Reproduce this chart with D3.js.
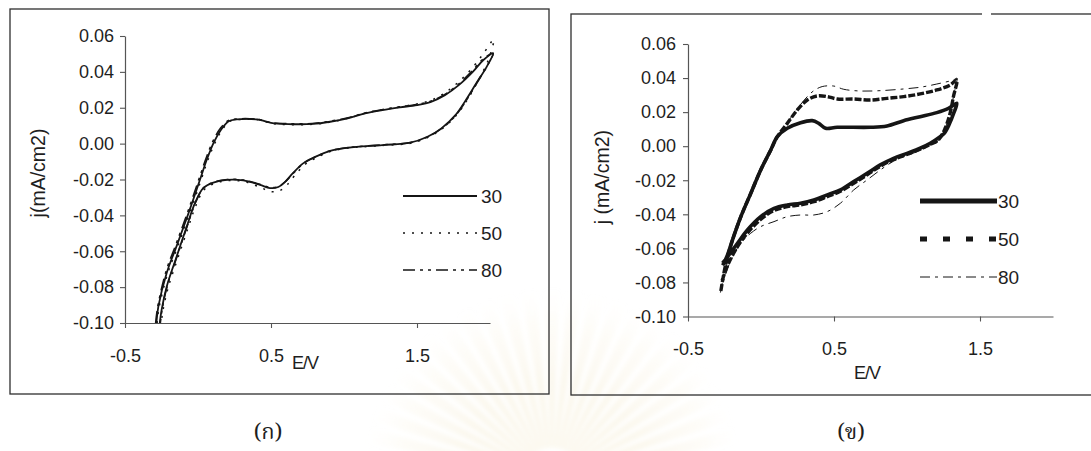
<!DOCTYPE html>
<html>
<head>
<meta charset="utf-8">
<script src="https://cdn.jsdelivr.net/npm/d3@7"></script>
<style>
  html, body { margin: 0; padding: 0; background: #ffffff; }
  svg { display: block; }
  text { font-family: "Liberation Sans", Arial, sans-serif; fill: #1e1e1e; }
</style>
</head>
<body>
<svg id="fig" width="1091" height="451"></svg>
<script>
// ---- data ---------------------------------------------------------------
const seriesNames = ["30", "50", "80"];
const xTickValues = [-0.5, 0.5, 1.5];
const yTickValues = [0.06, 0.04, 0.02, 0.00, -0.02, -0.04, -0.06, -0.08, -0.10];

// panel (ก): cyclic voltammograms, [E (V), j (mA/cm2)], forward then reverse scan
const cvA30 = [
  [-0.285,-0.100],[-0.272,-0.091],[-0.214,-0.072],[-0.146,-0.057],[-0.066,-0.039],[0.014,-0.020],
  [0.060,-0.009],[0.110,0.001],[0.160,0.008],[0.210,0.0125],[0.263,0.0135],[0.406,0.0135],
  [0.500,0.0116],[0.620,0.0109],[0.786,0.0110],[0.905,0.0122],[1.025,0.0141],[1.144,0.0169],
  [1.262,0.0187],[1.382,0.0202],[1.500,0.0215],[1.596,0.0233],[1.691,0.0270],[1.786,0.0326],
  [1.882,0.0400],[1.953,0.0465],[2.020,0.0502],
  [1.977,0.0428],[1.905,0.0335],[1.834,0.0242],[1.763,0.0159],[1.667,0.0085],[1.572,0.0038],
  [1.453,0.0005],[1.262,-0.0008],[1.025,-0.0023],[0.905,-0.0040],[0.800,-0.0075],[0.720,-0.0110],
  [0.650,-0.0165],[0.600,-0.0210],[0.550,-0.0242],[0.493,-0.0248],[0.425,-0.0230],[0.310,-0.0205],
  [0.197,-0.0202],[0.105,-0.0217],[0.036,-0.0248],[-0.021,-0.0332],[-0.077,-0.0462],[-0.146,-0.0629],
  [-0.214,-0.0796],[-0.249,-0.0925],[-0.262,-0.100]
];
const cvA50 = [
  [-0.280,-0.100],[-0.268,-0.092],[-0.210,-0.073],[-0.142,-0.058],[-0.062,-0.040],[0.018,-0.021],
  [0.064,-0.010],[0.114,0.000],[0.164,0.0075],[0.214,0.0122],[0.268,0.0133],[0.410,0.0133],
  [0.505,0.0113],[0.625,0.0106],[0.790,0.0108],[0.910,0.0121],[1.030,0.0142],[1.150,0.0171],
  [1.268,0.0190],[1.388,0.0206],[1.505,0.0222],[1.600,0.0243],[1.695,0.0285],[1.786,0.0345],
  [1.882,0.0425],[1.953,0.0500],[2.025,0.0580],
  [1.990,0.0470],[1.915,0.0345],[1.845,0.0245],[1.772,0.0160],[1.675,0.0085],[1.578,0.0036],
  [1.460,0.0003],[1.265,-0.0010],[1.028,-0.0025],[0.910,-0.0043],[0.808,-0.0080],[0.730,-0.0118],
  [0.662,-0.0178],[0.612,-0.0228],[0.560,-0.0262],[0.500,-0.0268],[0.430,-0.0245],[0.318,-0.0212],
  [0.205,-0.0206],[0.112,-0.0222],[0.044,-0.0255],[-0.012,-0.0340],[-0.068,-0.0470],[-0.138,-0.0638],
  [-0.205,-0.0805],[-0.240,-0.0930],[-0.252,-0.100]
];
const cvA80 = [
  [-0.290,-0.100],[-0.276,-0.091],[-0.218,-0.071],[-0.150,-0.056],[-0.070,-0.038],[0.010,-0.019],
  [0.056,-0.008],[0.106,0.002],[0.156,0.0088],[0.206,0.0128],[0.258,0.0137],[0.400,0.0136],
  [0.495,0.0118],[0.615,0.0111],[0.780,0.0112],[0.900,0.0124],[1.020,0.0143],[1.140,0.0170],
  [1.258,0.0189],[1.378,0.0204],[1.496,0.0218],[1.592,0.0236],[1.688,0.0273],[1.782,0.0330],
  [1.878,0.0405],[1.950,0.0470],[2.022,0.0505],
  [1.982,0.0435],[1.910,0.0338],[1.840,0.0244],[1.768,0.0160],[1.672,0.0086],[1.576,0.0039],
  [1.457,0.0006],[1.266,-0.0007],[1.030,-0.0022],[0.910,-0.0039],[0.805,-0.0074],[0.725,-0.0108],
  [0.656,-0.0162],[0.606,-0.0206],[0.555,-0.0238],[0.498,-0.0245],[0.428,-0.0228],[0.314,-0.0203],
  [0.200,-0.0200],[0.108,-0.0215],[0.040,-0.0245],[-0.017,-0.0328],[-0.073,-0.0458],[-0.142,-0.0625],
  [-0.210,-0.0792],[-0.245,-0.0920],[-0.258,-0.100]
];

// panel (ข)
const cvB30 = [
  [-0.262,-0.070],[-0.230,-0.064],[-0.195,-0.055],[-0.138,-0.0414],[-0.070,-0.0277],[-0.002,-0.0140],
  [0.067,-0.0022],[0.112,0.0056],[0.180,0.0105],[0.271,0.0138],[0.351,0.0150],[0.396,0.0134],
  [0.442,0.0105],[0.522,0.0111],[0.749,0.0111],[0.863,0.0119],[0.977,0.0150],[1.090,0.0173],
  [1.204,0.0197],[1.284,0.0222],[1.341,0.0252],
  [1.318,0.0190],[1.290,0.0130],[1.255,0.0075],[1.227,0.0056],[1.159,0.0017],[1.090,-0.0012],
  [1.000,-0.0042],[0.908,-0.0071],[0.817,-0.0110],[0.727,-0.0159],[0.635,-0.0208],[0.544,-0.0257],
  [0.454,-0.0286],[0.362,-0.0316],[0.271,-0.0335],[0.180,-0.0345],[0.089,-0.0365],[-0.002,-0.0414],
  [-0.093,-0.0492],[-0.161,-0.0570],[-0.229,-0.0649],[-0.263,-0.0687]
];
const cvB50 = [
  [-0.275,-0.085],[-0.241,-0.069],[-0.195,-0.055],[-0.138,-0.0414],[-0.070,-0.0277],[-0.002,-0.0140],
  [0.067,-0.0022],[0.112,0.0056],[0.180,0.0134],[0.249,0.0213],[0.317,0.0271],[0.385,0.0295],
  [0.454,0.0291],[0.522,0.0277],[0.635,0.0277],[0.749,0.0271],[0.863,0.0281],[0.977,0.0291],
  [1.090,0.0307],[1.204,0.0330],[1.295,0.0359],[1.341,0.0389],
  [1.318,0.0291],[1.295,0.0193],[1.261,0.0105],[1.216,0.0038],[1.159,0.0010],[1.090,-0.0018],
  [1.000,-0.0048],[0.908,-0.0078],[0.817,-0.0118],[0.727,-0.0168],[0.635,-0.0218],[0.544,-0.0265],
  [0.454,-0.0296],[0.362,-0.0326],[0.271,-0.0345],[0.180,-0.0355],[0.089,-0.0378],[-0.002,-0.0430],
  [-0.093,-0.0510],[-0.161,-0.0590],[-0.229,-0.0700],[-0.270,-0.0800]
];
const cvB80 = [
  [-0.278,-0.086],[-0.241,-0.070],[-0.195,-0.0555],[-0.138,-0.0420],[-0.070,-0.0280],[-0.002,-0.0145],
  [0.067,-0.0025],[0.112,0.0058],[0.180,0.0138],[0.249,0.0220],[0.317,0.0291],[0.362,0.0326],
  [0.419,0.0350],[0.499,0.0353],[0.567,0.0334],[0.681,0.0324],[0.817,0.0326],[0.977,0.0336],
  [1.090,0.0346],[1.204,0.0365],[1.318,0.0389],[1.341,0.0399],
  [1.320,0.0300],[1.297,0.0200],[1.263,0.0108],[1.218,0.0035],[1.159,0.0005],[1.090,-0.0025],
  [1.000,-0.0055],[0.908,-0.0088],[0.817,-0.0140],[0.727,-0.0198],[0.635,-0.0257],[0.544,-0.0335],
  [0.454,-0.0384],[0.362,-0.0404],[0.271,-0.0404],[0.180,-0.0414],[0.089,-0.0443],[-0.002,-0.0472],
  [-0.070,-0.0511],[-0.138,-0.0570],[-0.206,-0.0668],[-0.275,-0.0844]
];

// ---- drawing ------------------------------------------------------------
const svg = d3.select("#fig");
const fmtLocale = d3.formatLocale({ decimal: ".", thousands: ",", grouping: [3], currency: ["", ""], minus: "-" });
const fmtY = fmtLocale.format(".2f");
const fmtX = fmtLocale.format(".1f");

// faint, soft sunburst emblem in the lower middle of the page
(function drawEmblem() {
  const cx = 552, cy = 478;
  const defs = svg.append("defs");
  // gradient coordinates are local to the translated emblem group
  const grad = defs.append("radialGradient").attr("id", "emblemFade")
    .attr("gradientUnits", "userSpaceOnUse").attr("cx", 0).attr("cy", 0).attr("r", 190);
  grad.append("stop").attr("offset", "0%").attr("stop-color", "#eedfb0").attr("stop-opacity", 0.32);
  grad.append("stop").attr("offset", "50%").attr("stop-color", "#f1e5bf").attr("stop-opacity", 0.26);
  grad.append("stop").attr("offset", "82%").attr("stop-color", "#f4ebcf").attr("stop-opacity", 0.14);
  grad.append("stop").attr("offset", "100%").attr("stop-color", "#f7f1de").attr("stop-opacity", 0);
  defs.append("filter").attr("id", "emblemSoft")
    .attr("x", "-20%").attr("y", "-20%").attr("width", "140%").attr("height", "140%")
    .append("feGaussianBlur").attr("stdDeviation", 2.2);
  const g = svg.append("g").attr("transform", `translate(${cx},${cy})`)
    .attr("filter", "url(#emblemSoft)");
  const arc = d3.arc().innerRadius(30).outerRadius(190);
  const rays = d3.range(-84, 85, 7);
  g.selectAll("path.ray").data(rays).join("path")
    .attr("class", "ray")
    .attr("d", a => arc({ startAngle: (a - 2.3) * Math.PI / 180, endAngle: (a + 2.3) * Math.PI / 180 }))
    .attr("fill", "url(#emblemFade)");
})();

const panels = [
  {
    series: [cvA30, cvA50, cvA80],
    frame: { x: 10, y: 9, w: 539, h: 385 },
    xRange: [125, 490], yRange: [323, 36],
    yTitle: "j(mA/cm2)", yTitlePos: [38, 173],
    xTitlePos: [305, 369],
    styles: [
      { width: 1.8, dash: null },
      { width: 1.5, dash: "2,7" },
      { width: 1.6, dash: "12,5,3,5,3,5" }
    ],
    legend: { x0: 403, x1: 477, ys: [196, 233, 270], tx: 481 },
    yPad: 6, xPad: 21,
    caption: "(ก)", capPos: [268, 439]
  },
  {
    series: [cvB30, cvB50, cvB80],
    frame: { x: 571, y: 14, w: 560, h: 381 },
    xRange: [688, 1053], yRange: [316.5, 44],
    yTitle: "j (mA/cm2)", yTitlePos: [602, 177],
    xTitlePos: [867, 379],
    styles: [
      { width: 3.6, dash: null, legendWidth: 5 },
      { width: 3.4, dash: "7,2", legendWidth: 5, legendDash: "7,16" },
      { width: 1.0, dash: "10,5,3,5" }
    ],
    legend: { x0: 920, x1: 997, ys: [201, 239, 277], tx: 998 },
    yPad: 7, xPad: 21,
    caption: "(ข)", capPos: [851, 439]
  }
];

panels.forEach((p) => {
  const g = svg.append("g");

  // frame
  g.append("rect")
    .attr("x", p.frame.x).attr("y", p.frame.y)
    .attr("width", p.frame.w).attr("height", p.frame.h)
    .attr("fill", "none").attr("stroke", "#2e2e2e").attr("stroke-width", 1.3);

  const x = d3.scaleLinear().domain([-0.5, 2.0]).range(p.xRange);
  const y = d3.scaleLinear().domain([-0.10, 0.06]).range(p.yRange);

  // axes
  const yAxis = d3.axisLeft(y).tickValues(yTickValues).tickFormat(fmtY)
    .tickSize(5).tickSizeOuter(0).tickPadding(p.yPad);
  const xAxis = d3.axisBottom(x).tickValues(xTickValues).tickFormat(fmtX)
    .tickSize(5).tickSizeOuter(0).tickPadding(p.xPad);

  const gy = g.append("g").attr("transform", `translate(${p.xRange[0]},0)`).call(yAxis);
  const gx = g.append("g").attr("transform", `translate(0,${p.yRange[0]})`).call(xAxis);
  [gx, gy].forEach(ax => {
    ax.selectAll("path.domain").attr("stroke", "#555").attr("stroke-width", 1.2);
    ax.selectAll(".tick line").attr("stroke", "#555").attr("stroke-width", 1.1);
    ax.selectAll(".tick text").attr("font-size", 18).attr("fill", "#1e1e1e")
      .attr("font-family", "'Liberation Sans', Arial, sans-serif");
  });

  // axis titles
  g.append("text")
    .attr("transform", `translate(${p.yTitlePos[0]},${p.yTitlePos[1]}) rotate(-90)`)
    .attr("text-anchor", "middle").attr("dy", "0.35em")
    .attr("font-size", 19.5).text(p.yTitle);
  g.append("text")
    .attr("x", p.xTitlePos[0]).attr("y", p.xTitlePos[1])
    .attr("text-anchor", "middle").attr("font-size", 18)
    .attr("letter-spacing", -1).text("E/V");

  // curves
  const line = d3.line().x(d => x(d[0])).y(d => y(d[1])).curve(d3.curveCatmullRom.alpha(0.5));
  p.series.forEach((s, i) => {
    const st = p.styles[i];
    g.append("path").datum(s)
      .attr("d", line)
      .attr("fill", "none")
      .attr("stroke", "#151515")
      .attr("stroke-width", st.width)
      .attr("stroke-linejoin", "round")
      .attr("stroke-dasharray", st.dash);
  });

  // legend
  seriesNames.forEach((name, i) => {
    const st = p.styles[i];
    const ly = p.legend.ys[i];
    g.append("line")
      .attr("x1", p.legend.x0).attr("x2", p.legend.x1)
      .attr("y1", ly).attr("y2", ly)
      .attr("stroke", "#151515")
      .attr("stroke-width", st.legendWidth || st.width)
      .attr("stroke-dasharray", st.legendDash || st.dash);
    g.append("text")
      .attr("x", p.legend.tx).attr("y", ly).attr("dy", "0.36em")
      .attr("font-size", 19).text(name);
  });

  // caption
  g.append("text")
    .attr("x", p.capPos[0]).attr("y", p.capPos[1])
    .attr("text-anchor", "middle")
    .attr("font-size", 22)
    .style("font-family", "'Noto Serif Thai','Noto Sans Thai','Garuda','Loma','DejaVu Serif',serif")
    .text(p.caption);
});

// small break in the top edge of the right frame
svg.append("rect").attr("x", 982).attr("y", 12).attr("width", 9).attr("height", 4).attr("fill", "#ffffff");
</script>
</body>
</html>
